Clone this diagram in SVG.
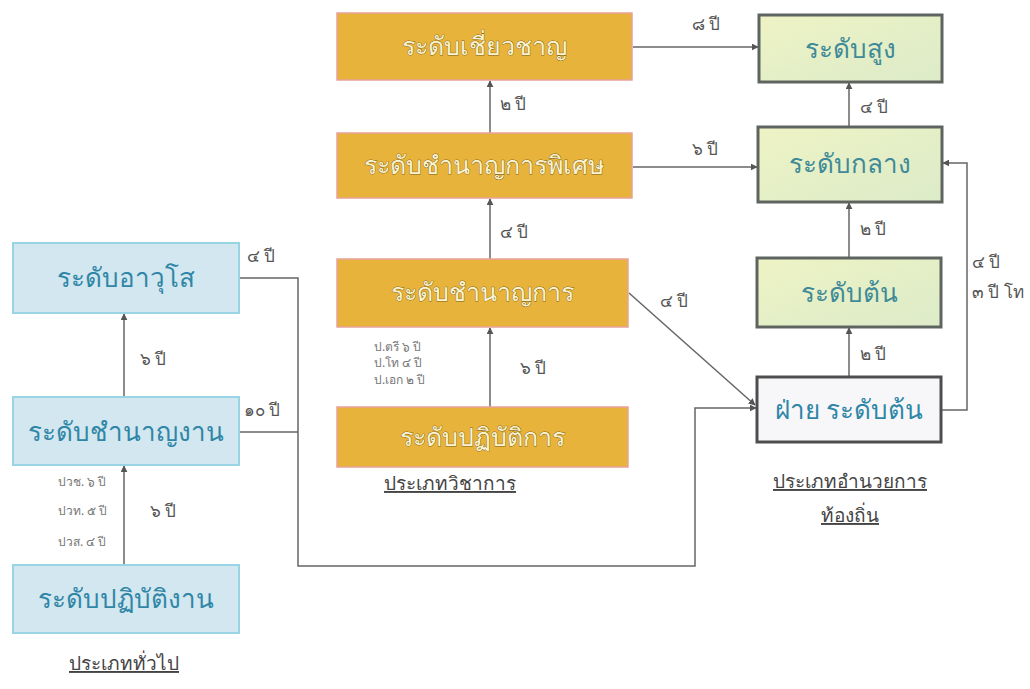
<svg xmlns="http://www.w3.org/2000/svg" width="1030" height="689" viewBox="0 0 1030 689">
<defs>
<marker id="ah" viewBox="0 0 10 10" refX="9" refY="5" markerWidth="7" markerHeight="7" orient="auto-start-reverse" markerUnits="userSpaceOnUse">
<path d="M0,0 L10,5 L0,10 z" fill="#555"/>
</marker>
<linearGradient id="gg" x1="0" y1="0" x2="1" y2="1">
<stop offset="0" stop-color="#eef3c4"/>
<stop offset="1" stop-color="#dcebc9"/>
</linearGradient>
<style>
text{font-family:"Noto Sans","DejaVu Sans",sans-serif;}
.blue rect{fill:#d2e7ef;stroke:#98d4e4;stroke-width:2;}
.blue text{fill:#2f86a6;font-size:26px;text-anchor:middle;}
.gold rect{fill:#e8b33a;stroke:#eaa39a;stroke-width:1.5;}
.gold text{fill:#f8f3d2;stroke:#7f6220;stroke-width:0.8;paint-order:stroke;font-size:25px;text-anchor:middle;}
.green rect{fill:url(#gg);stroke:#5e6460;stroke-width:3;}
.green text{fill:#3f8a98;font-size:26px;text-anchor:middle;}
.white rect{fill:#f7f7f9;stroke:#4e4e4e;stroke-width:3;}
.white text{fill:#2f86a6;font-size:26px;text-anchor:middle;}
.lbl{fill:#555;font-size:17px;}
.sm{fill:#777;font-size:12px;}
.cap{fill:#444;font-size:19px;text-anchor:middle;text-decoration:underline;}
.c{fill:none;stroke:#666;stroke-width:1.5;}
</style>
</defs>

<g id="connectors">
<path class="c" d="M124,397 V314" marker-end="url(#ah)"/>
<path class="c" d="M124,565 V466" marker-end="url(#ah)"/>
<path class="c" d="M239,278 H298 V566 H695 V408 H756" marker-end="url(#ah)"/>
<path class="c" d="M239,432 H298"/>
<path class="c" d="M490,133 V81" marker-end="url(#ah)"/>
<path class="c" d="M490,259 V199" marker-end="url(#ah)"/>
<path class="c" d="M490,407 V328" marker-end="url(#ah)"/>
<path class="c" d="M633,47 H758" marker-end="url(#ah)"/>
<path class="c" d="M633,167 H757" marker-end="url(#ah)"/>
<path class="c" d="M629,293 L755,405" marker-end="url(#ah)"/>
<path class="c" d="M849,127 V83" marker-end="url(#ah)"/>
<path class="c" d="M849,258 V203" marker-end="url(#ah)"/>
<path class="c" d="M849,377 V328" marker-end="url(#ah)"/>
<path class="c" d="M942,410 H967 V163 H943" marker-end="url(#ah)"/>
</g>

<g id="labels">
<text class="lbl" x="247" y="262">๔ ปี</text>
<text class="lbl" x="244" y="416">๑๐ ปี</text>
<text class="lbl" x="140" y="365">๖ ปี</text>
<text class="lbl" x="150" y="517">๖ ปี</text>
<text class="sm" x="58" y="486">ปวช. ๖ ปี</text>
<text class="sm" x="58" y="515">ปวท. ๕ ปี</text>
<text class="sm" x="58" y="546">ปวส. ๔ ปี</text>
<text class="lbl" x="500" y="110">๒ ปี</text>
<text class="lbl" x="500" y="238">๔ ปี</text>
<text class="lbl" x="520" y="374">๖ ปี</text>
<text class="sm" x="374" y="351">ป.ตรี  ๖ ปี</text>
<text class="sm" x="374" y="367">ป.โท ๔ ปี</text>
<text class="sm" x="374" y="384">ป.เอก ๒ ปี</text>
<text class="lbl" x="692" y="30">๘ ปี</text>
<text class="lbl" x="692" y="155">๖ ปี</text>
<text class="lbl" x="660" y="307">๔ ปี</text>
<text class="lbl" x="860" y="113">๔ ปี</text>
<text class="lbl" x="860" y="235">๒ ปี</text>
<text class="lbl" x="860" y="360">๒ ปี</text>
<text class="lbl" x="972" y="268">๔ ปี</text>
<text class="lbl" x="972" y="298">๓ ปี โท</text>
<text class="cap" x="124" y="670">ประเภททั่วไป</text>
<text class="cap" x="450" y="490">ประเภทวิชาการ</text>
<text class="cap" x="850" y="488">ประเภทอำนวยการ</text>
<text class="cap" x="850" y="522">ท้องถิ่น</text>
</g>

<g id="n-awuso" class="blue"><rect x="13" y="243" width="226" height="70"/><text x="126" y="287">ระดับอาวุโส</text></g>
<g id="n-chamnanngan" class="blue"><rect x="13" y="397" width="226" height="68"/><text x="126" y="441">ระดับชำนาญงาน</text></g>
<g id="n-patibatngan" class="blue"><rect x="13" y="565" width="226" height="68"/><text x="126" y="608">ระดับปฏิบัติงาน</text></g>

<g id="n-chiaochan" class="gold"><rect x="337" y="13" width="295" height="67"/><text x="484" y="55">ระดับเชี่ยวชาญ</text></g>
<g id="n-chamnankanphiset" class="gold"><rect x="337" y="133" width="295" height="65"/><text x="484" y="174">ระดับชำนาญการพิเศษ</text></g>
<g id="n-chamnankan" class="gold"><rect x="337" y="259" width="291" height="68"/><text x="482" y="301">ระดับชำนาญการ</text></g>
<g id="n-patibatkan" class="gold"><rect x="337" y="407" width="291" height="60"/><text x="482" y="446">ระดับปฏิบัติการ</text></g>

<g id="n-sung" class="green"><rect x="759" y="15" width="183" height="67"/><text x="850" y="58">ระดับสูง</text></g>
<g id="n-klang" class="green"><rect x="758" y="127" width="184" height="75"/><text x="850" y="173">ระดับกลาง</text></g>
<g id="n-ton" class="green"><rect x="757" y="258" width="184" height="69"/><text x="849" y="302">ระดับต้น</text></g>
<g id="n-faiton" class="white"><rect x="757" y="377" width="184" height="65"/><text x="849" y="419">ฝ่าย ระดับต้น</text></g>
</svg>
